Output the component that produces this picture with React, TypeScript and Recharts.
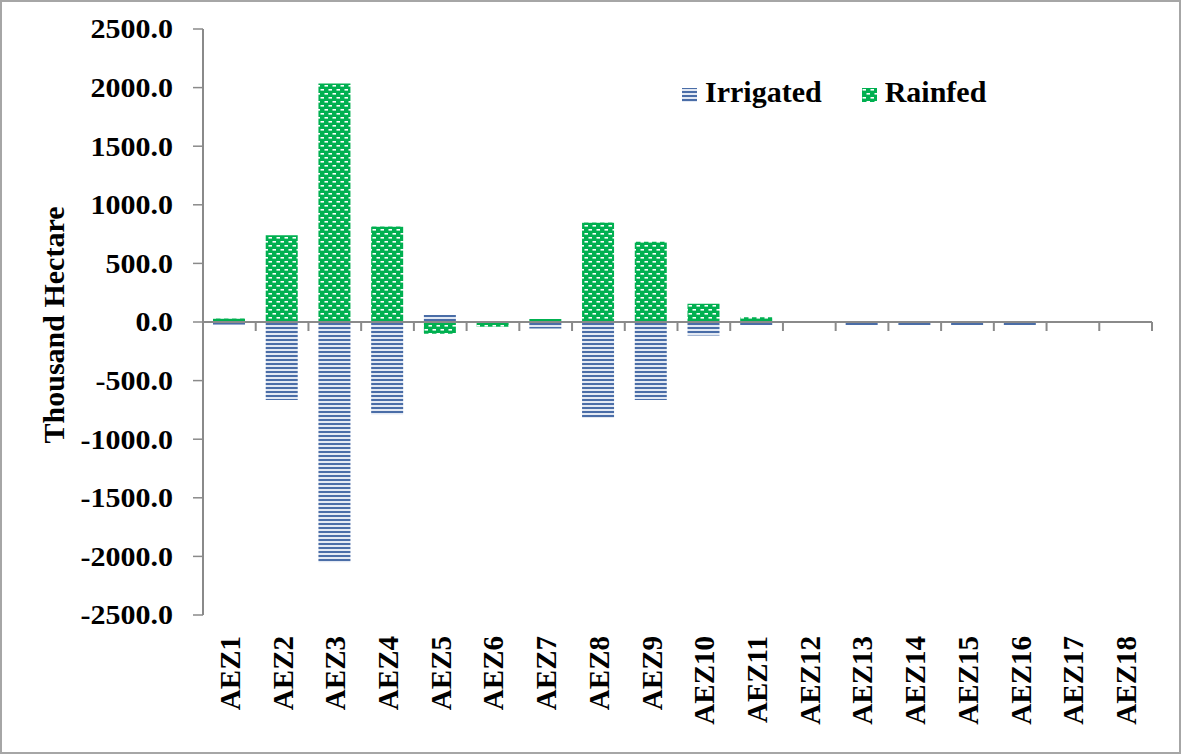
import React from 'react';
import { BarChart, Bar, XAxis, YAxis, ReferenceLine, Legend } from 'recharts';

const categories = ['AEZ1', 'AEZ2', 'AEZ3', 'AEZ4', 'AEZ5', 'AEZ6', 'AEZ7', 'AEZ8', 'AEZ9', 'AEZ10', 'AEZ11', 'AEZ12', 'AEZ13', 'AEZ14', 'AEZ15', 'AEZ16', 'AEZ17', 'AEZ18'];
const irrigated = [-22, -665, -2050, -790, 60, 0, -55, -820, -665, -115, -25, 0, -25, -25, -25, -25, 0, 0];
const rainfed = [30, 740, 2035, 815, -100, -40, 25, 850, 685, 155, 40, 0, 0, 0, 0, 0, 0, 0];
const yTicks = [-2500, -2000, -1500, -1000, -500, 0, 500, 1000, 1500, 2000, 2500];
const yDomain = [-2500, 2500];
const seriesNames = ['Irrigated', 'Rainfed'];

const data = categories.map((c, i) => ({ name: c, Irrigated: irrigated[i], Rainfed: rainfed[i] }));

const FONT = '"Liberation Serif", "Times New Roman", serif';
const AXIS_GRAY = '#8a8a8a';
const MARGIN = { top: 29, right: 29, left: 0, bottom: 0 };

const patternFor: Record<string, string> = {
  Irrigated: 'url(#irrPattern)',
  Rainfed: 'url(#rainPattern)',
};

const renderXTick = (props: any) => {
  const { x, y, payload, width, visibleTicksCount } = props;
  const count = visibleTicksCount || categories.length;
  const band = width && count ? width / count : 52.7;
  const plotTop = MARGIN.top;
  const yZero = plotTop + (y - plotTop) * ((yDomain[1] - 0) / (yDomain[1] - yDomain[0]));
  const bx = x + band / 2;
  const yy = y + 21;
  return (
    <g key={payload.value}>
      <line x1={bx} y1={yZero} x2={bx} y2={yZero + 9} stroke={AXIS_GRAY} strokeWidth={2} />
      <text
        x={x}
        y={yy}
        transform={`rotate(-90, ${x}, ${yy})`}
        textAnchor="end"
        dy="0.36em"
        fontFamily={FONT}
        fontWeight="bold"
        fontSize={29}
        fill="#000"
      >
        {payload.value}
      </text>
    </g>
  );
};

const renderYTick = (props: any) => {
  const { x, y, payload } = props;
  return (
    <g key={payload.value} transform={`translate(${x},${y}) scale(1,0.9)`}>
      <text x={0} y={0} textAnchor="end" dy="0.35em" fontFamily={FONT} fontWeight="bold" fontSize={30} fill="#000">
        {Number(payload.value).toFixed(1)}
      </text>
    </g>
  );
};

const YLabel = (props: any) => {
  const vb = props.viewBox || { x: 0, y: 29, width: 203, height: 586 };
  const cx = vb.x + 53;
  const cy = vb.y + vb.height / 2 + 3;
  return (
    <text
      x={cx}
      y={cy}
      transform={`rotate(-90, ${cx}, ${cy})`}
      textAnchor="middle"
      dy="0.35em"
      fontFamily={FONT}
      fontWeight="bold"
      fontSize={30}
      fill="#000"
    >
      Thousand Hectare
    </text>
  );
};

const renderLegend = (props: any) => {
  const payload = props.payload || [];
  return (
    <div style={{ display: 'flex', alignItems: 'center', fontFamily: FONT, fontWeight: 'bold', fontSize: 30, lineHeight: '30px', color: '#000' }}>
      {payload.map((entry: any, i: number) => (
        <div key={entry.value} style={{ display: 'flex', alignItems: 'center', marginRight: i === 0 ? 40 : 0 }}>
          <svg width={15} height={14} style={{ marginRight: 8, marginTop: 6 }}>
            <rect x={0} y={0} width={15} height={14} fill={patternFor[entry.value] || entry.color} />
          </svg>
          <span>{entry.value}</span>
        </div>
      ))}
    </div>
  );
};

export default function App() {
  return (
    <div
      style={{
        position: 'absolute',
        left: 0,
        top: 0,
        width: 1181,
        height: 754,
        boxSizing: 'border-box',
        border: '2px solid #a6a6a6',
        background: '#fff',
      }}
    >
      <svg width={0} height={0} style={{ position: 'absolute' }}>
        <defs>
          <pattern id="irrPattern" patternUnits="userSpaceOnUse" width={8} height={4}>
            <rect x={0} y={0} width={8} height={4} fill="#e3e9f3" />
            <rect x={0} y={0} width={8} height={1} fill="#4a6da7" />
            <rect x={0} y={3} width={8} height={1} fill="#4a6da7" />
          </pattern>
          <pattern id="rainPattern" patternUnits="userSpaceOnUse" width={8} height={8}>
            <rect x={0} y={0} width={8} height={8} fill="#00b050" />
            <rect x={0.5} y={1} width={3.5} height={1.6} fill="#ffffff" />
            <rect x={4.5} y={5} width={3.5} height={1.6} fill="#ffffff" />
          </pattern>
        </defs>
      </svg>
      <div style={{ position: 'absolute', left: -2, top: -2 }}>
        <BarChart
          width={1181}
          height={754}
          data={data}
          stackOffset="sign"
          barSize={32}
          margin={MARGIN}
        >
          <XAxis
            dataKey="name"
            height={139}
            axisLine={false}
            tickLine={false}
            tickSize={0}
            tickMargin={0}
            interval={0}
            tick={renderXTick}
          />
          <YAxis
            width={203}
            domain={yDomain}
            ticks={yTicks}
            interval={0}
            axisLine={{ stroke: AXIS_GRAY, strokeWidth: 2 }}
            tickLine={{ stroke: AXIS_GRAY, strokeWidth: 1.5 }}
            tickSize={10}
            tickMargin={20}
            tick={renderYTick}
            label={<YLabel />}
          />
          <ReferenceLine y={0} stroke={AXIS_GRAY} strokeWidth={2} />
          <Bar dataKey={seriesNames[0]} stackId="a" fill={patternFor.Irrigated} isAnimationActive={false} />
          <Bar dataKey={seriesNames[1]} stackId="a" fill={patternFor.Rainfed} isAnimationActive={false} />
          <Legend
            layout="horizontal"
            verticalAlign="middle"
            align="center"
            content={renderLegend}
            wrapperStyle={{ position: 'absolute', top: 77, left: 682, width: 'auto', height: 'auto' }}
          />
        </BarChart>
      </div>
    </div>
  );
}
